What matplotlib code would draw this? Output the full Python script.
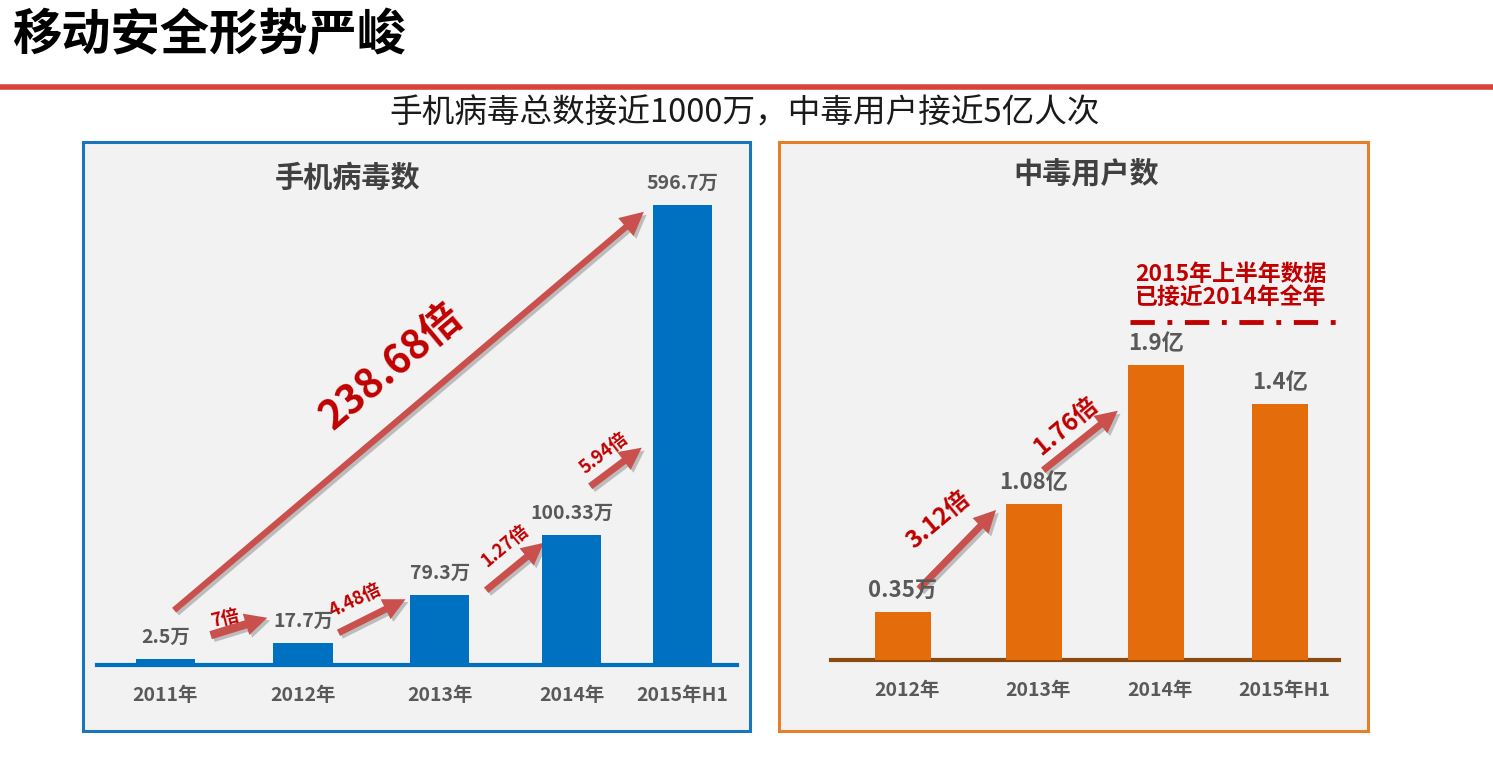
import matplotlib
matplotlib.use("Agg")
import matplotlib.pyplot as plt
from matplotlib.patches import Rectangle, FancyArrowPatch
import matplotlib.patheffects as pe

plt.rcParams['font.family'] = ['Noto Sans CJK SC', 'DejaVu Sans']

# ---- data ----
page_title = "移动安全形势严峻"
page_subtitle = "手机病毒总数接近1000万，中毒用户接近5亿人次"

virus_title = "手机病毒数"
virus_years = ["2011年", "2012年", "2013年", "2014年", "2015年H1"]
virus_labels = ["2.5万", "17.7万", "79.3万", "100.33万", "596.7万"]
# bar heights as drawn in the picture (not to scale with the labels)
virus_heights = [6, 22, 70, 130, 460]
virus_growth = ["7倍", "4.48倍", "1.27倍", "5.94倍"]
virus_total_growth = "238.68倍"

users_title = "中毒用户数"
users_years = ["2012年", "2013年", "2014年", "2015年H1"]
users_labels = ["0.35万", "1.08亿", "1.9亿", "1.4亿"]
users_heights = [48, 156, 295, 256]
users_growth = ["3.12倍", "1.76倍"]
users_note = "2015年上半年数据\n已接近2014年全年"

# ---- style ----
W, H = 1493, 783
BG = "#f2f2f2"
BLUE = "#0070c0"
ORANGE = "#e46c0a"
BROWN = "#8a4a12"
GRAY = "#595959"
DARKRED = "#c00000"
ARROW = "#c9504c"

fig = plt.figure(figsize=(W / 100, H / 100), dpi=100)
fig.patch.set_facecolor("white")


def px_axes(x0, y0, x1, y1, **kw):
    # axes placed in pixel coords (y from top)
    return fig.add_axes([x0 / W, 1 - y1 / H, (x1 - x0) / W, (y1 - y0) / H], **kw)


# overlay in pixel coords for frames, header and annotations
ov = px_axes(0, 0, W, H, zorder=0)
ov.set_xlim(0, W)
ov.set_ylim(H, 0)
ov.axis("off")

ov.text(12, 36, page_title, fontsize=35.5, fontweight="bold", color="black", va="center", ha="left")
ov.plot([0, W], [87, 87], color="#d8433c", lw=4, solid_capstyle="butt")
ov.text(745, 113, page_subtitle, fontsize=23.5, color="#1a1a1a", va="center", ha="center")

ov.add_patch(Rectangle((83, 142), 667, 589, facecolor=BG, edgecolor="#1b75bb", lw=2.2))
ov.add_patch(Rectangle((779, 142), 589, 589, facecolor=BG, edgecolor="#e5802a", lw=2.2))
ov.text(348, 178, virus_title, fontsize=21, fontweight="bold", color="#404040", ha="center", va="center")
ov.text(1086, 173, users_title, fontsize=21, fontweight="bold", color="#404040", ha="center", va="center")

shadow = [pe.SimplePatchShadow(offset=(2, -2), shadow_rgbFace="#888888", alpha=0.5), pe.Normal()]


def arrow(ax, p0, p1, width=5, head=16):
    a = FancyArrowPatch(p0, p1, arrowstyle=f"simple,head_width={head / 7:.2f},head_length={head / 7:.2f},tail_width={width / 7:.2f}",
                        mutation_scale=7, color=ARROW, lw=0, zorder=5, path_effects=shadow)
    ax.add_patch(a)


def growth_text(ax, x, y, s, rot, size):
    ax.text(x, y, s, fontsize=size, fontweight="bold", color=DARKRED, rotation=rot,
            rotation_mode="anchor", ha="center", va="center", zorder=6)


# ---- left chart ----
axL = px_axes(97, 165, 737, 665, zorder=2)
slotsL = [0, 1.065, 2.12, 3.14, 4.0]
axL.bar(slotsL, virus_heights, width=0.46, color=BLUE, zorder=3)
axL.set_xlim(-0.53, 4.42)
axL.set_ylim(0, 500)
axL.patch.set_alpha(0)
for s in ["top", "right", "left"]:
    axL.spines[s].set_visible(False)
axL.spines["bottom"].set_color(BLUE)
axL.spines["bottom"].set_linewidth(3)
axL.set_yticks([])
axL.set_xticks(slotsL)
axL.set_xticklabels(virus_years, fontsize=14, fontweight="bold", color=GRAY)
axL.tick_params(axis="x", length=0, pad=15)
for x, h, lab in zip(slotsL, virus_heights, virus_labels):
    axL.annotate(lab, (x, h), xytext=(0, 9), textcoords="offset points", ha="center", va="bottom",
                 fontsize=14, fontweight="bold", color=GRAY, zorder=4)

# growth arrows (pixel coords)
arrow(ov, (172, 612), (646, 210), width=4.5, head=17)
growth_text(ov, 392, 367, virus_total_growth, 40, 29)
arrow(ov, (208, 636), (270, 617), width=6, head=16)
growth_text(ov, 225, 618, virus_growth[0], 14, 13)
arrow(ov, (336, 634), (408, 598), width=5, head=16)
growth_text(ov, 355, 600, virus_growth[1], 26, 13)
arrow(ov, (484, 592), (546, 541), width=5, head=16)
growth_text(ov, 505, 545, virus_growth[2], 40, 13)
arrow(ov, (588, 488), (644, 446), width=5, head=16)
growth_text(ov, 604, 453, virus_growth[3], 38, 13)

# ---- right chart ----
axR = px_axes(831, 160, 1339, 660, zorder=2)
slotsR = [0, 1, 1.93, 2.88]
axR.bar(slotsR, users_heights, width=0.43, color=ORANGE, zorder=3)
axR.set_xlim(-0.55, 3.33)
axR.set_ylim(0, 500)
axR.patch.set_alpha(0)
for s in ["top", "right", "left"]:
    axR.spines[s].set_visible(False)
axR.spines["bottom"].set_color(BROWN)
axR.spines["bottom"].set_linewidth(3)
axR.set_yticks([])
axR.set_xticks([x + 0.03 for x in slotsR])
axR.set_xticklabels(users_years, fontsize=14, fontweight="bold", color=GRAY)
axR.tick_params(axis="x", length=0, pad=15)
for x, h, lab in zip(slotsR, users_heights, users_labels):
    axR.annotate(lab, (x, h), xytext=(0, 7), textcoords="offset points", ha="center", va="bottom",
                 fontsize=16, fontweight="bold", color=GRAY, zorder=4)

arrow(ov, (917, 591), (998, 508), width=5, head=16)
growth_text(ov, 938, 520, users_growth[0], 40, 17.5)
arrow(ov, (1041, 472), (1120, 409), width=5, head=16)
growth_text(ov, 1066, 426, users_growth[1], 40, 17.5)

ov.text(1231, 286, users_note, fontsize=16.5, fontweight="bold", color=DARKRED, ha="center", va="center",
        linespacing=1.0, zorder=6)
ov.plot([1130, 1336], [322, 322], color=DARKRED, lw=3.5, dashes=(5, 2.6, 1, 2.6), zorder=6)

fig.savefig("out.png", dpi=100, facecolor="white")
